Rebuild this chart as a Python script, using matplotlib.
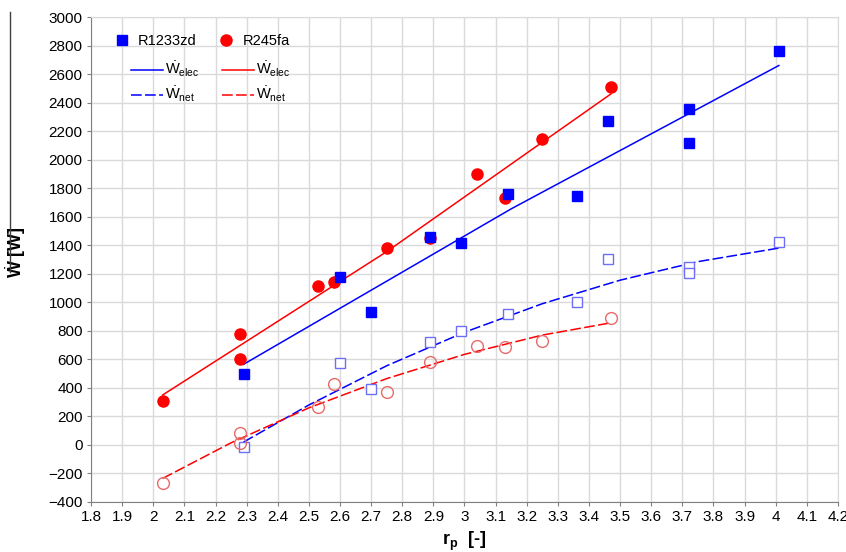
import matplotlib
matplotlib.use('Agg')
import matplotlib.pyplot as plt
from matplotlib.lines import Line2D

plt.rcParams['font.family'] = ['Liberation Sans', 'DejaVu Sans']
plt.rcParams['mathtext.fontset'] = 'custom'
plt.rcParams['mathtext.rm'] = 'Liberation Sans'
plt.rcParams['mathtext.it'] = 'Liberation Sans:italic'
plt.rcParams['mathtext.bf'] = 'Liberation Sans:bold'

# R1233zd measurements
rp_1233 = [2.29, 2.60, 2.70, 2.89, 2.99, 3.14, 3.36, 3.46, 3.72, 3.72, 4.01]
welec_1233 = [500, 1180, 930, 1455, 1415, 1760, 1745, 2270, 2355, 2115, 2760]
wnet_1233 = [-15, 575, 390, 720, 800, 915, 1000, 1300, 1245, 1205, 1420]

# R245fa measurements
rp_245 = [2.03, 2.28, 2.28, 2.53, 2.58, 2.75, 2.89, 3.04, 3.13, 3.25, 3.47]
welec_245 = [310, 780, 605, 1115, 1140, 1380, 1450, 1900, 1730, 2145, 2510]
wnet_245 = [-270, 85, 15, 265, 425, 370, 580, 695, 690, 730, 890]

# trend curves
fit_elec_1233_x = [2.29, 3.15, 4.01]
fit_elec_1233_y = [565, 1655, 2660]
fit_net_1233_x = [2.29, 2.5, 2.75, 3.0, 3.25, 3.5, 3.75, 4.01]
fit_net_1233_y = [20, 280, 555, 790, 990, 1155, 1285, 1380]
fit_elec_245_x = [2.03, 2.75, 3.47]
fit_elec_245_y = [350, 1355, 2460]
fit_net_245_x = [2.03, 2.25, 2.5, 2.75, 3.0, 3.25, 3.47]
fit_net_245_y = [-235, 15, 260, 465, 635, 770, 856]

blue = '#0000ff'
red = '#ff0000'
blue_open = '#6f6ff5'
red_open = '#e86a6a'

fig = plt.figure(figsize=(8.46, 5.52), dpi=100)
ax = fig.add_axes([0.1076, 0.0906, 0.8829, 0.8786])

dash = (7, 2.2)
ax.plot(fit_elec_1233_x, fit_elec_1233_y, color=blue, lw=1.1, zorder=3)
ax.plot(fit_net_1233_x, fit_net_1233_y, color=blue, lw=1.1, dashes=dash, zorder=3)
ax.plot(fit_elec_245_x, fit_elec_245_y, color=red, lw=1.1, zorder=3)
ax.plot(fit_net_245_x, fit_net_245_y, color=red, lw=1.1, dashes=dash, zorder=3)

ax.plot(rp_1233, wnet_1233, ls='none', marker='s', ms=7, mfc='white',
        mec=blue_open, mew=1.0, zorder=4)
ax.plot(rp_245, wnet_245, ls='none', marker='o', ms=8.5, mfc='none',
        mec=red_open, mew=1.0, zorder=4)
ax.plot(rp_245, welec_245, ls='none', marker='o', ms=8, color=red, zorder=4)
ax.plot(rp_1233, welec_1233, ls='none', marker='s', ms=7, color=blue, zorder=5)

ax.set_xlim(1.8, 4.2)
ax.set_ylim(-400, 3000)
xt = [1.8 + 0.1 * i for i in range(25)]
ax.set_xticks(xt)
ax.set_xticklabels(['%g' % round(v, 1) for v in xt])
ax.set_yticks(range(-400, 3001, 200))
ax.tick_params(labelsize=11, length=3, color='#808080', pad=3)
ax.grid(True, color='#dadada', lw=1.0)
ax.set_axisbelow(True)
for s in ['left', 'bottom']:
    ax.spines[s].set_color('#808080')
for s in ['top', 'right']:
    ax.spines[s].set_color('#dadada')

ax.set_xlabel(r'$\mathbf{r_p}$  [-]', fontsize=13, fontweight='bold', labelpad=4)
ax.set_ylabel(r'$\dot{\mathbf{W}}$ [W]', fontsize=13, fontweight='bold')
ax.yaxis.set_label_coords(-0.084, 0.515)

# marker legend
h1 = [Line2D([], [], ls='none', marker='s', ms=7, color=blue),
      Line2D([], [], ls='none', marker='o', ms=8, color=red)]
leg1 = ax.legend(h1, ['R1233zd', 'R245fa'], ncol=2, frameon=False, fontsize=10.5,
                 loc='upper left', bbox_to_anchor=(0.0135, 0.992),
                 handlelength=1.0, handletextpad=0.6, columnspacing=1.55)
ax.add_artist(leg1)

# trend legend
h2 = [Line2D([], [], color=blue, lw=1.1),
      Line2D([], [], color=blue, lw=1.1, dashes=dash),
      Line2D([], [], color=red, lw=1.1),
      Line2D([], [], color=red, lw=1.1, dashes=dash)]
lab2 = [r'$\dot{\mathrm{W}}_{\mathrm{elec}}$', r'$\dot{\mathrm{W}}_{\mathrm{net}}$',
        r'$\dot{\mathrm{W}}_{\mathrm{elec}}$', r'$\dot{\mathrm{W}}_{\mathrm{net}}$']
ax.legend(h2, lab2, ncol=2, frameon=False, fontsize=10.5,
          loc='upper left', bbox_to_anchor=(0.036, 0.938),
          handlelength=2.2, handletextpad=0.1, columnspacing=1.58, labelspacing=0.4)

# vertical stroke left of the y label
fig.add_artist(Line2D([10 / 846, 10 / 846], [1 - 12 / 552, 1 - 272 / 552],
                      color='#404040', lw=1.0))

fig.savefig('out.png', dpi=100)
